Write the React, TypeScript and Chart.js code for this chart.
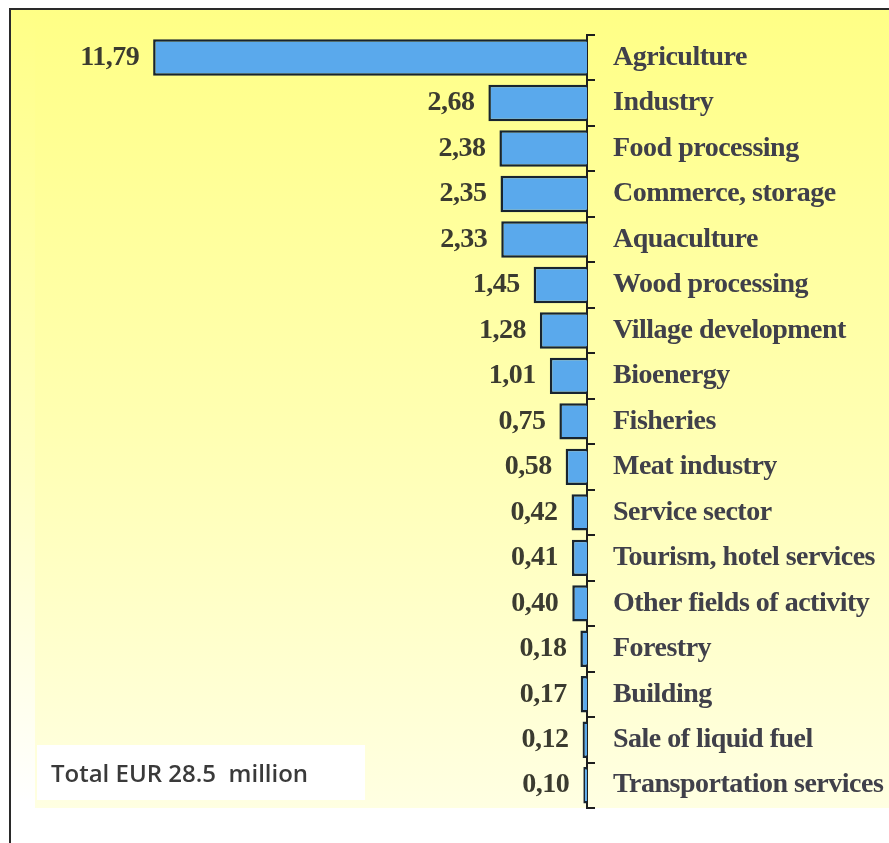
import React, { useEffect, useRef } from "react";
import { Chart, registerables } from "chart.js";

Chart.register(...registerables);

const categories = [
  "Agriculture",
  "Industry",
  "Food processing",
  "Commerce, storage",
  "Aquaculture",
  "Wood processing",
  "Village development",
  "Bioenergy",
  "Fisheries",
  "Meat industry",
  "Service sector",
  "Tourism, hotel services",
  "Other fields of activity",
  "Forestry",
  "Building",
  "Sale of liquid fuel",
  "Transportation services",
];

const values = [11.79, 2.68, 2.38, 2.35, 2.33, 1.45, 1.28, 1.01, 0.75, 0.58, 0.42, 0.41, 0.4, 0.18, 0.17, 0.12, 0.1];

const totalNote = "Total EUR 28.5  million";

const W = 889;
const H = 843;

const bgPlugin = {
  id: "bgPlugin",
  beforeDraw(chart: any) {
    const ctx = chart.ctx;
    const area = chart.chartArea;
    ctx.save();
    ctx.fillStyle = "#ffffff";
    ctx.fillRect(0, 0, W, H);
    const g1 = ctx.createLinearGradient(0, 9, 0, H);
    g1.addColorStop(0, "#FFFF86");
    g1.addColorStop(0.55, "#FFFFC4");
    g1.addColorStop(0.95, "#FFFFFF");
    ctx.fillStyle = g1;
    ctx.fillRect(10, 9, W - 10, H - 9);
    const g2 = ctx.createLinearGradient(0, 12, 0, area.bottom);
    g2.addColorStop(0, "#FFFF86");
    g2.addColorStop(0.5, "#FFFFB0");
    g2.addColorStop(1, "#FFFFE2");
    ctx.fillStyle = g2;
    ctx.fillRect(area.left, 12, W - area.left, area.bottom - 12);
    ctx.strokeStyle = "#2a2a2a";
    ctx.lineWidth = 2;
    ctx.beginPath();
    ctx.moveTo(10, H);
    ctx.lineTo(10, 9);
    ctx.lineTo(W, 9);
    ctx.stroke();
    ctx.restore();
    (ctx as any).letterSpacing = "-0.5px";
  },
  afterDatasetsDraw(chart: any) {
    const ctx = chart.ctx;
    const meta = chart.getDatasetMeta(0);
    ctx.save();
    (ctx as any).letterSpacing = "-0.5px";
    ctx.font = "bold 28px 'Liberation Serif'";
    ctx.fillStyle = "#3b3b30";
    ctx.textAlign = "right";
    ctx.textBaseline = "middle";
    meta.data.forEach((el: any, i: number) => {
      const v = values[i];
      ctx.fillText(v.toFixed(2).replace(".", ","), el.x - 14, el.y);
    });
    // total box
    (ctx as any).letterSpacing = "0px";
    ctx.fillStyle = "#ffffff";
    ctx.fillRect(37, 745, 328, 55);
    ctx.fillStyle = "#3a3a3a";
    ctx.font = "600 24px 'Open Sans'";
    ctx.textAlign = "left";
    ctx.textBaseline = "alphabetic";
    ctx.fillText(totalNote, 51, 782);
    ctx.restore();
  },
  afterDraw(chart: any) {
    (chart.ctx as any).letterSpacing = "0px";
  },
};

export default function App() {
  const ref = useRef<HTMLCanvasElement>(null);
  useEffect(() => {
    document.body.style.margin = "0";
    const chart = new Chart(ref.current as HTMLCanvasElement, {
      type: "bar",
      data: {
        labels: categories,
        datasets: [
          {
            data: values,
            backgroundColor: "#5AA9EC",
            borderColor: "#18242F",
            borderWidth: 2.5,
            categoryPercentage: 0.8,
            barPercentage: 1,
          },
        ],
      },
      options: {
        indexAxis: "y",
        responsive: false,
        animation: false,
        layout: { padding: { left: 35, top: 26, bottom: 35, right: 0 } },
        plugins: { legend: { display: false }, tooltip: { enabled: false } },
        scales: {
          x: { type: "linear", reverse: true, min: 0, max: 15, display: false },
          y: {
            position: "right",
            grid: {
              drawOnChartArea: false,
              drawTicks: true,
              tickLength: 8,
              color: "#1e1e1e",
              lineWidth: 2,
              offset: true,
            },
            border: { display: true, color: "#1e1e1e", width: 2 },
            ticks: {
              autoSkip: false,
              padding: 18,
              color: "#40404a",
              font: { family: "'Liberation Serif'", size: 28, weight: "bold" },
            },
            afterFit: (s: any) => {
              s.width = 302;
            },
          },
        },
      } as any,
      plugins: [bgPlugin],
    });
    return () => chart.destroy();
  }, []);
  return <canvas ref={ref} width={W} height={H} style={{ display: "block" }} />;
}
